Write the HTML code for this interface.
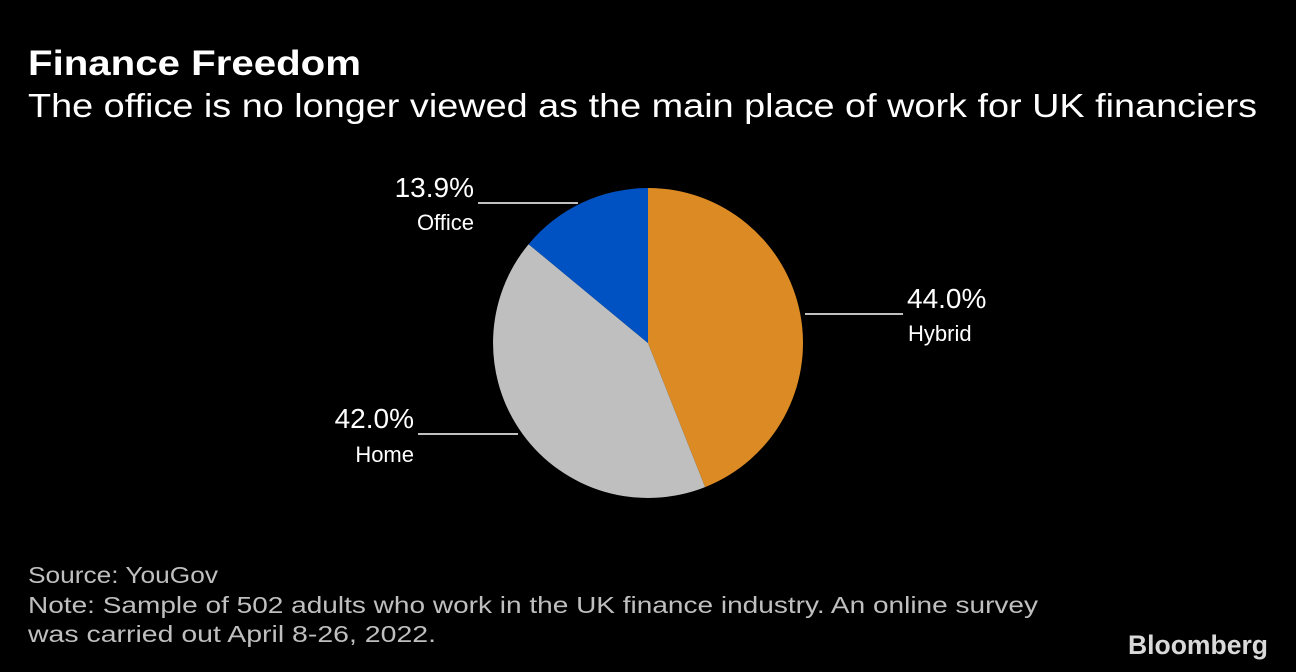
<!DOCTYPE html>
<html><head><meta charset="utf-8"><style>
html,body{margin:0;padding:0;background:#000;}
svg{display:block;}
text{font-family:"Liberation Sans",sans-serif;fill:#fff;}
</style></head><body>
<svg width="1296" height="672" viewBox="0 0 1296 672" xmlns="http://www.w3.org/2000/svg">
<rect width="1296" height="672" fill="#000"/>
<text x="28" y="75" font-size="35" font-weight="bold" textLength="333" lengthAdjust="spacingAndGlyphs">Finance Freedom</text>
<text x="28" y="117" font-size="33" textLength="1229" lengthAdjust="spacingAndGlyphs">The office is no longer viewed as the main place of work for UK financiers</text>

<path d="M648,343 L648,188 A155,155 0 0 1 705.1,487.1 Z" fill="#db8a24"/>
<path d="M648,343 L705.1,487.1 A155,155 0 0 1 528.6,244.2 Z" fill="#bfbfbf"/>
<path d="M648,343 L528.6,244.2 A155,155 0 0 1 648,188 Z" fill="#0052c2"/>

<line x1="478" y1="203" x2="578" y2="203" stroke="#fff" stroke-width="1.5"/>
<line x1="805" y1="314" x2="903" y2="314" stroke="#fff" stroke-width="1.5"/>
<line x1="418" y1="434" x2="518" y2="434" stroke="#fff" stroke-width="1.5"/>

<text x="474" y="197" font-size="28" text-anchor="end">13.9%</text>
<text x="474" y="230" font-size="22" text-anchor="end">Office</text>
<text x="907" y="308" font-size="28">44.0%</text>
<text x="908" y="341" font-size="22">Hybrid</text>
<text x="414" y="428" font-size="28" text-anchor="end">42.0%</text>
<text x="414" y="462" font-size="22" text-anchor="end">Home</text>

<text x="28" y="583" font-size="23" fill="#bfbfbf" style="fill:#bfbfbf" textLength="190" lengthAdjust="spacingAndGlyphs">Source: YouGov</text>
<text x="28" y="613" font-size="23" style="fill:#bfbfbf" textLength="1010" lengthAdjust="spacingAndGlyphs">Note: Sample of 502 adults who work in the UK finance industry. An online survey</text>
<text x="28" y="642" font-size="23" style="fill:#bfbfbf" textLength="408" lengthAdjust="spacingAndGlyphs">was carried out April 8-26, 2022.</text>
<text x="1128" y="654" font-size="27" font-weight="bold" style="fill:#d9d9d9" textLength="140" lengthAdjust="spacingAndGlyphs">Bloomberg</text>
</svg>
</body></html>
